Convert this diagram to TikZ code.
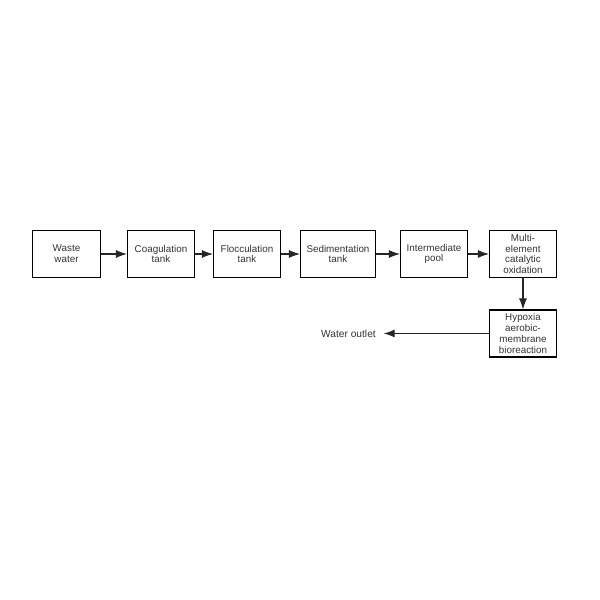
\documentclass[tikz,border=0pt]{standalone}
\usepackage{fontspec}
\setmainfont{Liberation Sans}
\usetikzlibrary{positioning,arrows.meta}

\tikzset{
  stage/.style={draw, line width=0.6pt, minimum height=0.94cm, minimum width=1.34cm,
    inner sep=1pt, align=center, font=\fontsize{5.6}{6.1}\selectfont, text=black!80},
  flow/.style={-{Latex[length=2.2mm,width=1.6mm]}, line width=0.6pt, black!85}
}

\begin{document}
\begin{tikzpicture}[on grid]
        \useasboundingbox (0,0) rectangle (12,12);
        \node[stage, minimum width=1.36cm] (waste) at (1.33,6.92) {Waste\\water};
        \node[stage, right=1.89cm of waste] (coag) {Coagulation\\tank};
        \node[stage, right=1.72cm of coag] (floc) {Flocculation\\tank};
        \node[stage, right=1.82cm of floc, minimum width=1.50cm] (sed) {Sedimentation\\tank};
        \node[stage, right=1.92cm of sed] (inter) {Intermediate\\pool};
        \node[stage, right=1.78cm of inter] (oxid) {Multi-\\element\\catalytic\\oxidation};
        \node[stage, below=1.59cm of oxid] (membr) {Hypoxia\\aerobic-\\membrane\\bioreaction};
        \node[font=\fontsize{5.8}{6.1}\selectfont, text=black!80, left=2.14cm of membr.west, anchor=east] (outlet) {Water outlet};
        \draw[flow] (waste) -- (coag);
        \draw[flow] (coag) -- (floc);
        \draw[flow] (floc) -- (sed);
        \draw[flow] (sed) -- (inter);
        \draw[flow] (inter) -- (oxid);
        \draw[flow] (oxid) -- (membr);
        \draw[flow] (membr) -- ([xshift=1pt]outlet.east);
\end{tikzpicture}
\end{document}
